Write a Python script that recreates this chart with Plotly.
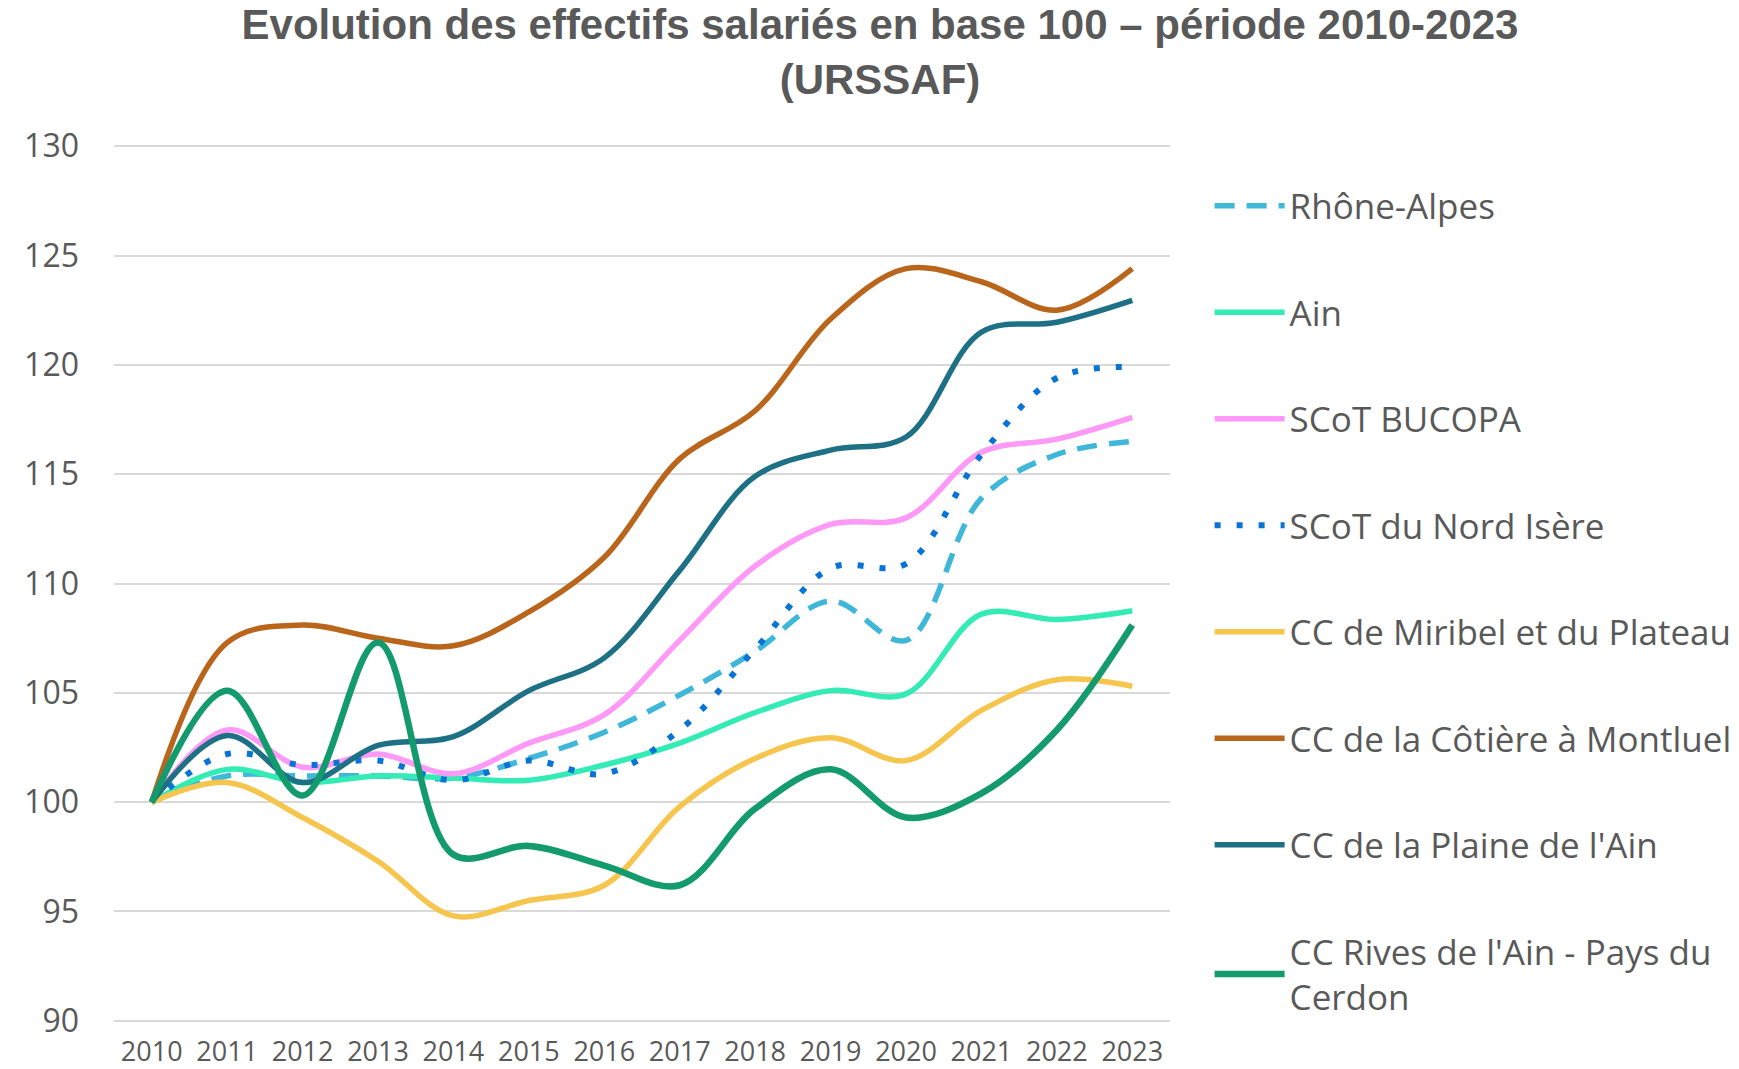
import plotly.graph_objects as go

years = [str(y) for y in range(2010, 2024)]

rhone_alpes = [100, 101.2, 101.2, 101.2, 101.1, 102.0, 103.2, 104.9, 106.9, 109.2, 107.4, 113.9, 115.9, 116.5]
ain = [100, 101.5, 100.9, 101.2, 101.1, 101.0, 101.7, 102.7, 104.1, 105.1, 104.95, 108.6, 108.35, 108.75]
bucopa = [100, 103.3, 101.6, 102.2, 101.3, 102.7, 104.0, 107.4, 110.8, 112.7, 113.0, 116.0, 116.6, 117.6]
nord_isere = [100, 102.2, 101.7, 101.9, 101.0, 101.9, 101.3, 103.3, 107.0, 110.7, 110.9, 115.9, 119.4, 119.9]
miribel = [100, 100.9, 99.3, 97.3, 94.8, 95.5, 96.2, 99.8, 102.0, 102.95, 101.9, 104.2, 105.6, 105.3]
cotiere = [100, 107.3, 108.1, 107.5, 107.15, 108.7, 111.2, 115.7, 117.9, 122.1, 124.4, 123.8, 122.5, 124.4]
plaine = [100, 103.05, 100.9, 102.6, 103.0, 105.1, 106.6, 110.6, 114.9, 116.1, 116.7, 121.5, 121.95, 122.95]
rives = [100, 105.1, 100.3, 107.3, 97.6, 98.0, 97.1, 96.2, 99.7, 101.5, 99.3, 100.4, 103.3, 108.1]

series = [
    ("Rhône-Alpes", rhone_alpes, "#3FB7D9", 5.5, "20px,12px"),
    ("Ain", ain, "#33EBB5", 5.5, "solid"),
    ("SCoT BUCOPA", bucopa, "#FF99F7", 5.5, "solid"),
    ("SCoT du Nord Isère", nord_isere, "#0A74D6", 6, "6px,16px"),
    ("CC de Miribel et du Plateau", miribel, "#F6C54E", 5.5, "solid"),
    ("CC de la Côtière à Montluel", cotiere, "#B9661C", 5.5, "solid"),
    ("CC de la Plaine de l'Ain", plaine, "#1E7185", 5.5, "solid"),
    ("CC Rives de l'Ain - Pays du<br>Cerdon", rives, "#139A6D", 6.5, "solid"),
]

fig = go.Figure()
for i, (name, vals, color, w, dash) in enumerate(series):
    fig.add_trace(go.Scatter(
        x=years, y=vals, name=name, mode="lines",
        line=dict(color=color, width=w, dash=dash, shape="spline", smoothing=1),
        legendgroup=f"g{i}",
    ))

grey = "#595959"
fig.update_layout(
    width=1739, height=1069,
    paper_bgcolor="white", plot_bgcolor="white",
    margin=dict(l=114, r=569, t=143.8, b=45.8, autoexpand=False),
    title=dict(
        text="Evolution des effectifs salariés en base 100 – période 2010-2023<br>(URSSAF)",
        x=880/1739, xanchor="center", xref="container",
        y=1 - 39/1069, yanchor="top", yref="container",
        font=dict(family="Liberation Sans, Arial", size=42, color=grey, weight="bold"),
    ),
    xaxis=dict(
        type="category", range=[-0.5, 13.5],
        showgrid=False, showline=False, zeroline=False, ticks="",
        tickfont=dict(family="Open Sans", size=27, color=grey),
        ticklabelstandoff=10,
    ),
    yaxis=dict(
        range=[89.9, 130.1], dtick=5, tick0=90,
        showgrid=True, gridcolor="#D9D9D9", gridwidth=1.5,
        zeroline=False, showline=False, ticks="",
        tickfont=dict(family="Open Sans", size=32, color=grey),
        ticklabelstandoff=34,
    ),
    legend=dict(
        x=1.0375, xanchor="left", xref="paper",
        y=0.963, yanchor="top", yref="paper",
        font=dict(family="Open Sans", size=35, color=grey),
        traceorder="grouped", tracegroupgap=58,
        itemwidth=70, bgcolor="rgba(0,0,0,0)",
    ),
    showlegend=True,
)

fig.write_html("out.html", config={"displayModeBar": False},
               post_script="document.body.style.margin='0px';")
